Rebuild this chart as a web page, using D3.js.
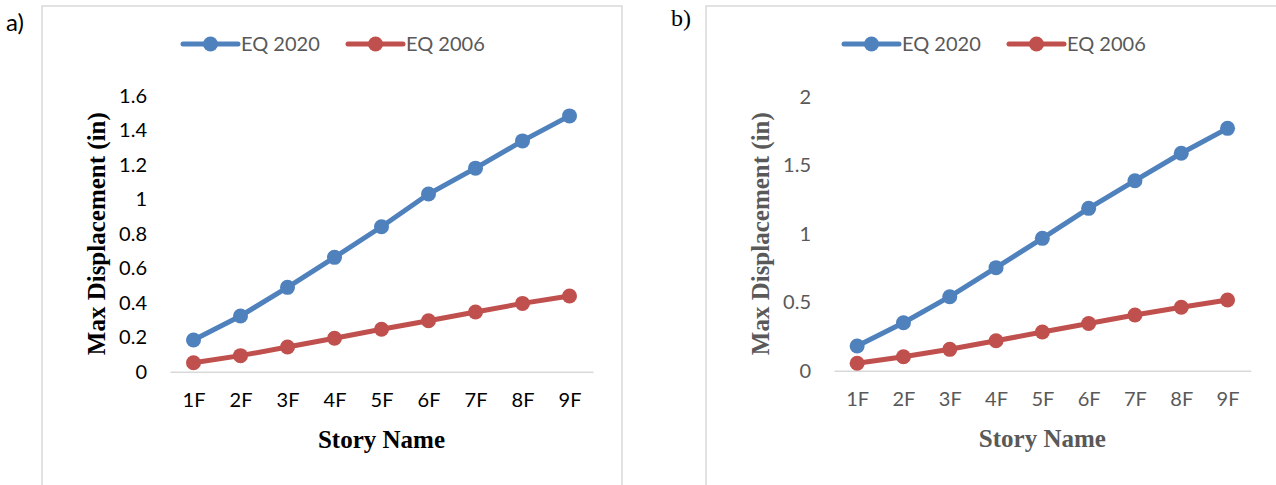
<!DOCTYPE html>
<html>
  <head>
    <meta charset="utf-8">
    <title>Max displacement by story</title>
    <script src="https://d3js.org/d3.v7.min.js"></script>
    <style>
      body { margin: 0; background: #fff; }
      svg { display: block; }
      .tick line { display: none; }
    </style>
  </head>
  <body>
    <svg id="chart" width="1276" height="485"></svg>
    <script>
      // data
      const stories = ["1F", "2F", "3F", "4F", "5F", "6F", "7F", "8F", "9F"];
      const seriesNames = ["EQ 2020", "EQ 2006"];
      const eq2020A = [0.184, 0.323, 0.489, 0.663, 0.840, 1.030, 1.180, 1.338, 1.483];
      const eq2006A = [0.052, 0.093, 0.143, 0.194, 0.246, 0.295, 0.346, 0.396, 0.439];
      const eq2020B = [0.180, 0.350, 0.540, 0.752, 0.966, 1.185, 1.387, 1.587, 1.769];
      const eq2006B = [0.054, 0.102, 0.156, 0.219, 0.282, 0.345, 0.407, 0.463, 0.516];
      const ticksA = [0, 0.2, 0.4, 0.6, 0.8, 1, 1.2, 1.4, 1.6];
      const ticksB = [0, 0.5, 1, 1.5, 2];

      const colors = ["#4f81bd", "#c0504d"];
      const chart = d3.select("#chart");

      const panels = [
        { tag: "a)", tagFont: "Lato", tagX: 6, tagY: 31,
          box: [42, 6, 580, 520], x: [170, 593], y: [371.7, 95.7], max: 1.6, ticks: ticksA,
          series: [eq2020A, eq2006A], ink: "#000", legendInk: "#595959",
          yTitleX: 96, legendX: 183, legendY: 44 },
        { tag: "b)", tagFont: "Liberation Serif", tagX: 671, tagY: 26,
          box: [706, 6, 620, 520], x: [834, 1250.7], y: [370.7, 96.7], max: 2, ticks: ticksB,
          series: [eq2020B, eq2006B], ink: "#595959", legendInk: "#595959",
          yTitleX: 760, legendX: 844, legendY: 44 }
      ];

      panels.forEach(function(p) {
        const g = chart.append("g");
        g.append("rect")
          .attr("x", p.box[0]).attr("y", p.box[1])
          .attr("width", p.box[2]).attr("height", p.box[3])
          .attr("fill", "none").attr("stroke", "#d9d9d9").attr("stroke-width", 1.5);
        chart.append("text")
          .text(p.tag)
          .attr("x", p.tagX).attr("y", p.tagY)
          .style("font-family", p.tagFont).style("font-size", "24px").attr("fill", "#000");

        const x = d3.scalePoint().domain(stories).range(p.x).padding(0.5);
        const y = d3.scaleLinear().domain([0, p.max]).range(p.y);

        // axes
        const xAxis = d3.axisBottom(x).tickSize(0).tickSizeOuter(0).tickPadding(21);
        const yAxis = d3.axisLeft(y).tickValues(p.ticks).tickSize(0).tickPadding(23)
          .tickFormat(function(d) { return String(d); });
        const gx = g.append("g").attr("transform", "translate(0," + p.y[0] + ")").call(xAxis);
        gx.select(".domain").attr("stroke", "#d9d9d9").attr("stroke-width", 1.5);
        const gy = g.append("g").attr("transform", "translate(" + p.x[0] + ",0)").call(yAxis);
        gy.select(".domain").remove();
        g.selectAll(".tick text")
          .attr("fill", p.ink)
          .style("font-family", "Lato").style("font-size", "20px");

        // axis titles
        g.append("text")
          .text("Story Name")
          .attr("x", (p.x[0] + p.x[1]) / 2).attr("y", p.y[0] + 76)
          .attr("text-anchor", "middle").attr("fill", p.ink)
          .style("font-family", "Liberation Serif").style("font-weight", "bold").style("font-size", "25px");
        g.append("text")
          .text("Max Displacement (in)")
          .attr("transform", "translate(" + p.yTitleX + "," + (p.y[0] + p.y[1]) / 2 + ") rotate(-90)")
          .attr("text-anchor", "middle").attr("dominant-baseline", "central").attr("fill", p.ink)
          .style("font-family", "Liberation Serif").style("font-weight", "bold").style("font-size", "25px");

        // series
        const line = d3.line()
          .x(function(d, i) { return x(stories[i]); })
          .y(function(d) { return y(d); });
        p.series.forEach(function(vals, k) {
          g.append("path")
            .attr("d", line(vals))
            .attr("fill", "none").attr("stroke", colors[k]).attr("stroke-width", 5);
          g.selectAll(".dot" + k)
            .data(vals)
            .enter().append("circle")
              .attr("cx", function(d, i) { return x(stories[i]); })
              .attr("cy", function(d) { return y(d); })
              .attr("r", 7.5)
              .attr("fill", colors[k]);
        });

        // legend
        const leg = g.append("g").attr("transform", "translate(" + p.legendX + "," + p.legendY + ")");
        seriesNames.forEach(function(name, k) {
          const item = leg.append("g").attr("transform", "translate(" + (k * 165) + ",0)");
          item.append("line")
            .attr("x1", 0).attr("x2", 55).attr("y1", 0).attr("y2", 0)
            .attr("stroke", colors[k]).attr("stroke-width", 5).attr("stroke-linecap", "round");
          item.append("circle").attr("cx", 27.5).attr("cy", 0).attr("r", 7.5).attr("fill", colors[k]);
          item.append("text")
            .text(name)
            .attr("x", 58).attr("y", 0).attr("dy", "0.35em")
            .attr("fill", p.legendInk)
            .style("font-family", "Lato").style("font-size", "20px");
        });
      });
    </script>
  </body>
</html>
